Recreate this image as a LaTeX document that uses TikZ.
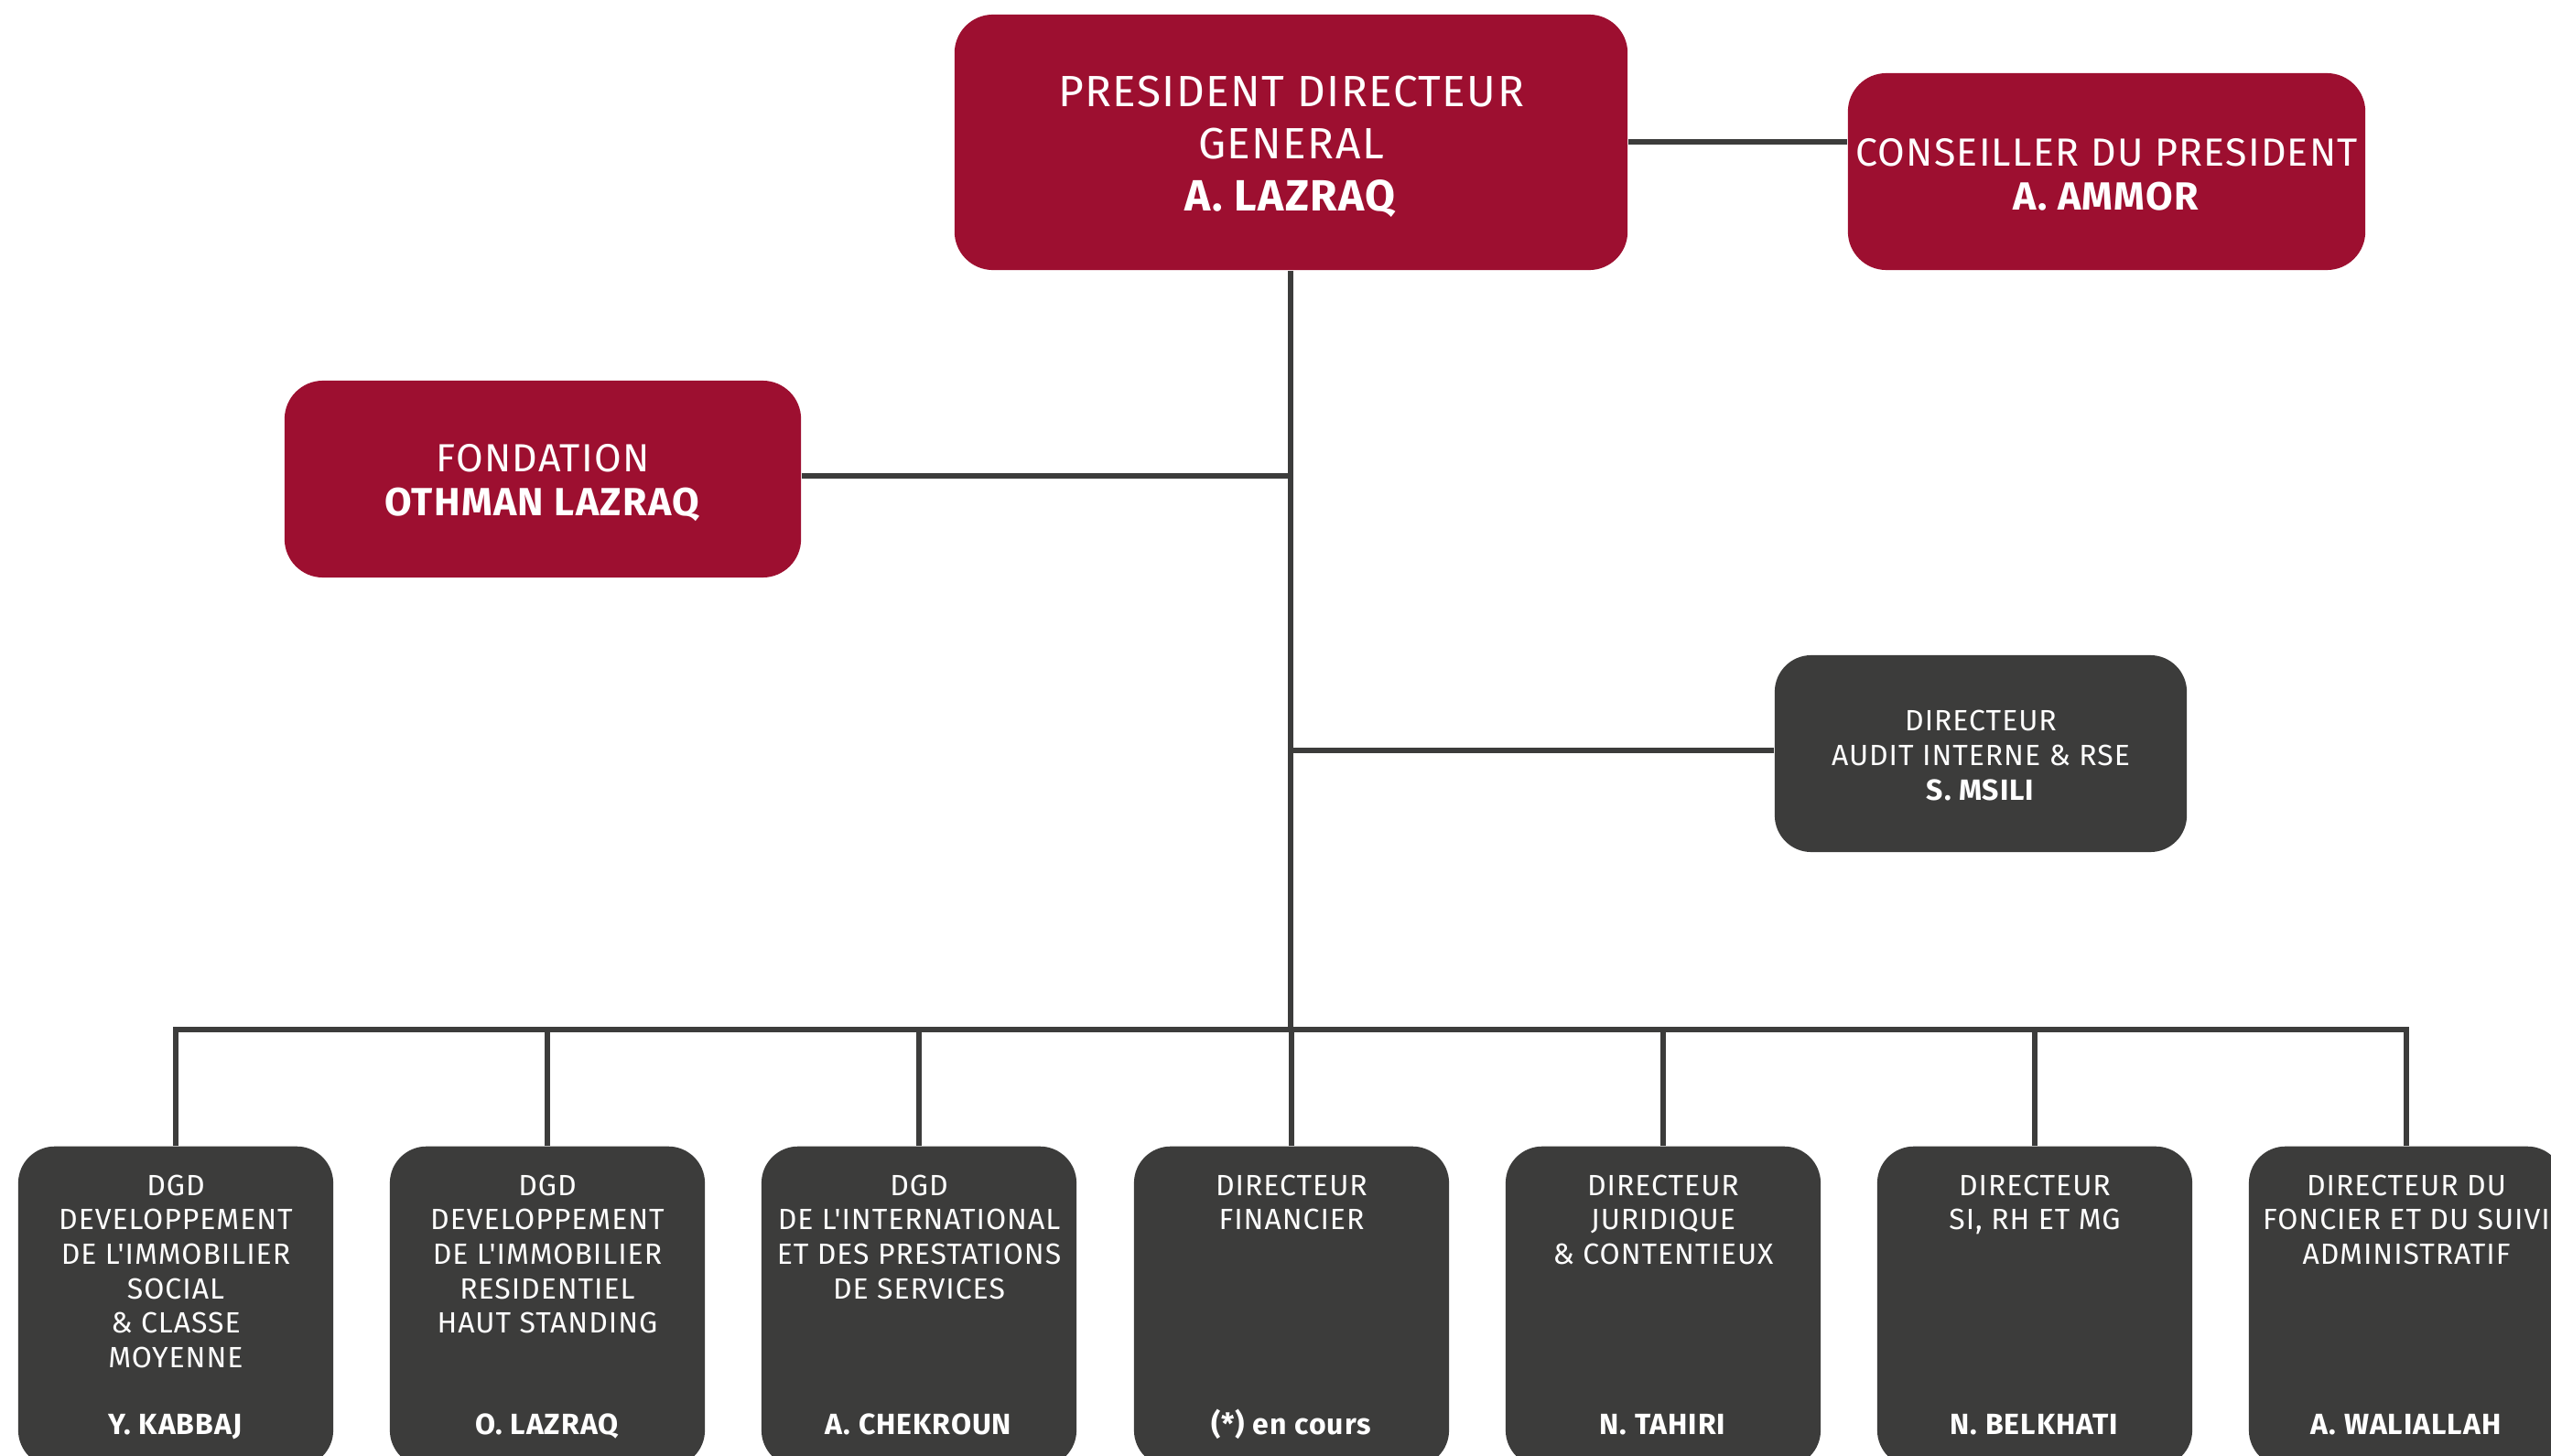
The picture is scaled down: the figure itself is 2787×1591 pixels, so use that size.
\documentclass[tikz,border=0pt]{standalone}
\usepackage{fontspec}
\setmainfont{Fira Sans}[LetterSpace=3, Ligatures=TeXOff]
\definecolor{boxred}{HTML}{9D0F30}
\definecolor{boxgray}{HTML}{3C3C3B}
\definecolor{linegray}{HTML}{3C3C3B}
\tikzset{
  redbox/.style={draw=none, fill=boxred, rounded corners=0.42cm, inner sep=0pt},
  graybox/.style={draw=none, fill=boxgray, rounded corners=0.4cm, inner sep=0pt},
  bottombox/.style={graybox, minimum width=3.44cm, minimum height=3.5cm, anchor=north},
  boxtext/.style={text=white, align=center, inner sep=0pt},
  bigfont/.style={font=\fontsize{13.6}{16.2}\selectfont},
  midfont/.style={font=\fontsize{12.2}{13.8}\selectfont},
  smallfont/.style={font=\fontsize{9.1}{10.7}\selectfont},
  titletext/.style={smallfont, text=white, align=center, inner sep=0pt, anchor=north},
  nametext/.style={smallfont, text=white, inner sep=0pt, anchor=base},
  conn/.style={draw=linegray, line width=1.7pt}
}
\begin{document}
\begin{tikzpicture}[x=0.01cm,y=-0.01cm]
\clip (0,0) rectangle (2787,1591);
\fill[white] (0,0) rectangle (2787,1591);

% top boxes
\node[redbox, minimum width=7.35cm, minimum height=2.79cm] (pdg) at (1410.5,155.5) {};
\node[redbox, minimum width=5.65cm, minimum height=2.15cm] (cons) at (2301.5,187.5) {};
\node[redbox, minimum width=5.64cm, minimum height=2.15cm] (fond) at (593,523.5) {};
\node[graybox, minimum width=4.5cm, minimum height=2.15cm] (audit) at (2164,823.5) {};

\node[boxtext, bigfont] (pdgtxt) at ([yshift=-0.05cm]pdg.center)
  {PRESIDENT DIRECTEUR\\GENERAL\\\textbf{A. LAZRAQ}};
\node[boxtext, midfont] (constxt) at ([yshift=-0.035cm]cons.center)
  {CONSEILLER DU PRESIDENT\\\textbf{A. AMMOR}};
\node[boxtext, midfont] (fondtxt) at ([yshift=-0.04cm]fond.center)
  {FONDATION\\\textbf{OTHMAN LAZRAQ}};
\node[boxtext, smallfont] (audittxt) at ([yshift=-0.02cm]audit.center)
  {DIRECTEUR\\AUDIT INTERNE \& RSE\\\textbf{S. MSILI}};

% bottom boxes
\node[bottombox] (b1) at (192,1252) {};
\node[bottombox] (b2) at (598,1252) {};
\node[bottombox] (b3) at (1004,1252) {};
\node[bottombox] (b4) at (1411,1252) {};
\node[bottombox] (b5) at (1817,1252) {};
\node[bottombox] (b6) at (2223,1252) {};
\node[bottombox] (b7) at (2629,1252) {};

% bottom titles
\node[titletext] (t1) at (192,1283) {DGD\\DEVELOPPEMENT\\DE L'IMMOBILIER\\SOCIAL\\\& CLASSE\\MOYENNE};
\node[titletext] (t2) at (598,1283) {DGD\\DEVELOPPEMENT\\DE L'IMMOBILIER\\RESIDENTIEL\\HAUT STANDING};
\node[titletext] (t3) at (1004,1283) {DGD\\DE L'INTERNATIONAL\\ET DES PRESTATIONS\\DE SERVICES};
\node[titletext] (t4) at (1411,1283) {DIRECTEUR\\FINANCIER};
\node[titletext] (t5) at (1817,1283) {DIRECTEUR\\JURIDIQUE\\\& CONTENTIEUX};
\node[titletext] (t6) at (2223,1283) {DIRECTEUR\\SI, RH ET MG};
\node[titletext] (t7) at (2629,1283) {DIRECTEUR DU\\FONCIER ET DU SUIVI\\ADMINISTRATIF};

% bottom names
\node[nametext] (n1) at (192,1567) {\textbf{Y. KABBAJ}};
\node[nametext] (n2) at (598,1567) {\textbf{O. LAZRAQ}};
\node[nametext] (n3) at (1004,1567) {\textbf{A. CHEKROUN}};
\node[nametext] (n4) at (1411,1567) {\textbf{(*) en cours}};
\node[nametext] (n5) at (1817,1567) {\textbf{N. TAHIRI}};
\node[nametext] (n6) at (2223,1567) {\textbf{N. BELKHATI}};
\node[nametext] (n7) at (2629,1567) {\textbf{A. WALIALLAH}};

% connectors
\coordinate (bus) at (1410,1125);
\draw[conn] (pdg.east |- 0,155) -- (cons.west |- 0,155);
\draw[conn] (pdg.south -| bus) -- (bus);
\draw[conn] (fond.east |- 0,520) -- (bus |- 0,520);
\draw[conn] (audit.west |- 0,820) -- (bus |- 0,820);
\draw[conn] (b1.north) -- (b1.north |- bus) -- (b7.north |- bus) -- (b7.north);
\draw[conn] (b2.north) -- (b2.north |- bus);
\draw[conn] (b3.north) -- (b3.north |- bus);
\draw[conn] (b4.north) -- (b4.north |- bus);
\draw[conn] (b5.north) -- (b5.north |- bus);
\draw[conn] (b6.north) -- (b6.north |- bus);
\end{tikzpicture}
\end{document}
